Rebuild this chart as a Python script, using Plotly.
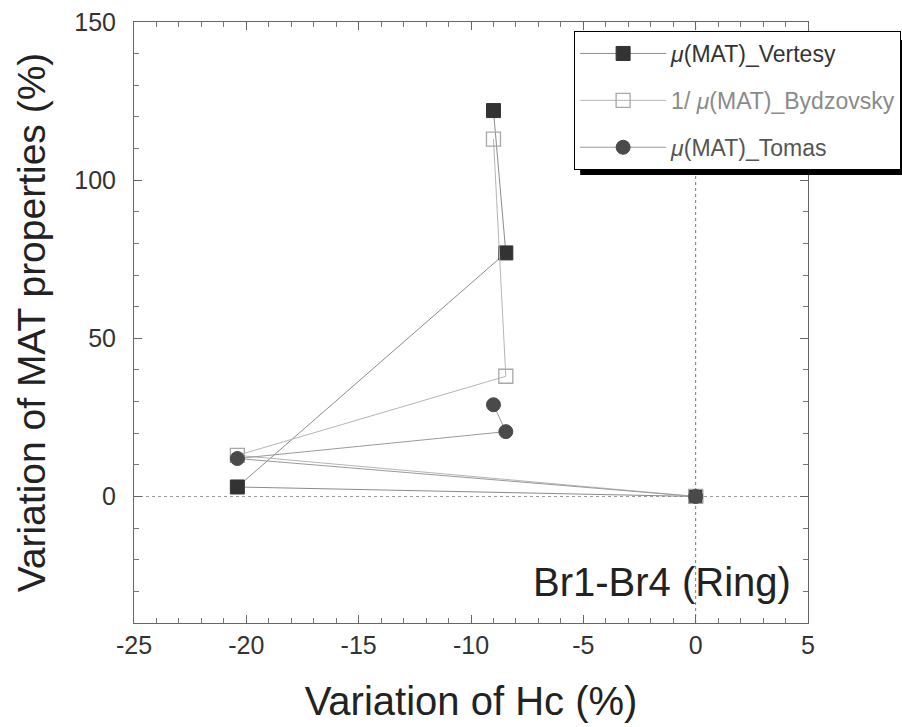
import plotly.graph_objects as go

# Variation of Hc (%) for each ring sample, shared by all three series
hc_var = [0.0, -20.4, -8.45, -9.0]

# Variation of MAT properties (%)
vertesy = [0.0, 3.0, 77.0, 122.0]
bydzovsky = [0.0, 13.0, 38.0, 113.0]
tomas = [0.0, 12.0, 20.5, 29.0]

names = [
    '<i>μ</i>(MAT)_Vertesy',
    '<span style="color:#8a8a8a">1/ <i>μ</i>(MAT)_Bydzovsky</span>',
    '<span style="color:#555555"><i>μ</i>(MAT)_Tomas</span>',
]

x_ticks = [-25, -20, -15, -10, -5, 0, 5]
x_labels = ["-25", "-20", "-15", "-10", "-5", "0", "5"]
y_ticks = [0, 50, 100, 150]

fig = go.Figure()

fig.add_trace(go.Scatter(
    x=hc_var, y=vertesy, name=names[0], mode="lines+markers", legendgroup="a",
    line=dict(color="#8c8c8c", width=1),
    marker=dict(symbol="square", size=14, color="#333333",
                line=dict(color="#333333", width=1)),
))
fig.add_trace(go.Scatter(
    x=hc_var, y=bydzovsky, name=names[1], mode="lines+markers", legendgroup="b",
    line=dict(color="#b5b5b5", width=1),
    marker=dict(symbol="square-open", size=14, color="#a8a8a8",
                line=dict(color="#a8a8a8", width=1.3)),
))
fig.add_trace(go.Scatter(
    x=hc_var, y=tomas, name=names[2], mode="lines+markers", legendgroup="c",
    line=dict(color="#9a9a9a", width=1),
    marker=dict(symbol="circle", size=14, color="#4a4a4a",
                line=dict(color="#4a4a4a", width=1)),
))

# dotted zero reference lines
fig.add_shape(type="line", xref="x", yref="paper", x0=0, x1=0, y0=0, y1=1,
              line=dict(color="#777777", width=1, dash="dot"), layer="below")
fig.add_shape(type="line", xref="paper", yref="y", x0=0, x1=1, y0=0, y1=0,
              line=dict(color="#999999", width=1, dash="dot"), layer="below")

# drop shadow behind the legend box
fig.add_shape(type="rect", xref="paper", yref="paper",
              x0=0.662, x1=1.2, y0=0.7455, y1=0.970,
              fillcolor="black", line=dict(width=0), layer="above")

fig.add_annotation(
    x=1, y=0, xref="paper", yref="paper", xanchor="right", yanchor="bottom",
    xshift=-15, yshift=17, showarrow=False,
    text="Br1-Br4 (Ring)", font=dict(size=40, color="#222222"),
)

axis_common = dict(
    showgrid=False, zeroline=False, showline=True, linecolor="#666666",
    linewidth=1, mirror="ticks", ticks="inside", ticklen=8, tickcolor="#666666",
    tickfont=dict(size=25, color="#333333"),
)

fig.update_layout(
    width=902, height=727,
    margin=dict(l=134, r=94, t=22, b=104, autoexpand=False),
    paper_bgcolor="white", plot_bgcolor="white",
    font=dict(family="Liberation Sans, Arial, sans-serif", color="#222222"),
    xaxis=dict(
        range=[-25, 5], tickvals=x_ticks, ticktext=x_labels,
        title=dict(text="Variation of Hc (%)", font=dict(size=40), standoff=28),
        minor=dict(dtick=1, ticks="inside", ticklen=5, tickcolor="#777777"),
        **axis_common,
    ),
    yaxis=dict(
        range=[-40, 150], tickvals=y_ticks, ticklabelstandoff=12,
        title=dict(text="Variation of MAT properties (%)", font=dict(size=39), standoff=16),
        minor=dict(dtick=10, ticks="inside", ticklen=5, tickcolor="#777777"),
        **axis_common,
    ),
    legend=dict(
        x=0.653, y=0.985, xanchor="left", yanchor="top",
        bgcolor="white", bordercolor="black", borderwidth=1,
        font=dict(size=23, color="#333333"),
        itemwidth=86, tracegroupgap=14,
    ),
    showlegend=True,
)

fig.write_html("out.html")
